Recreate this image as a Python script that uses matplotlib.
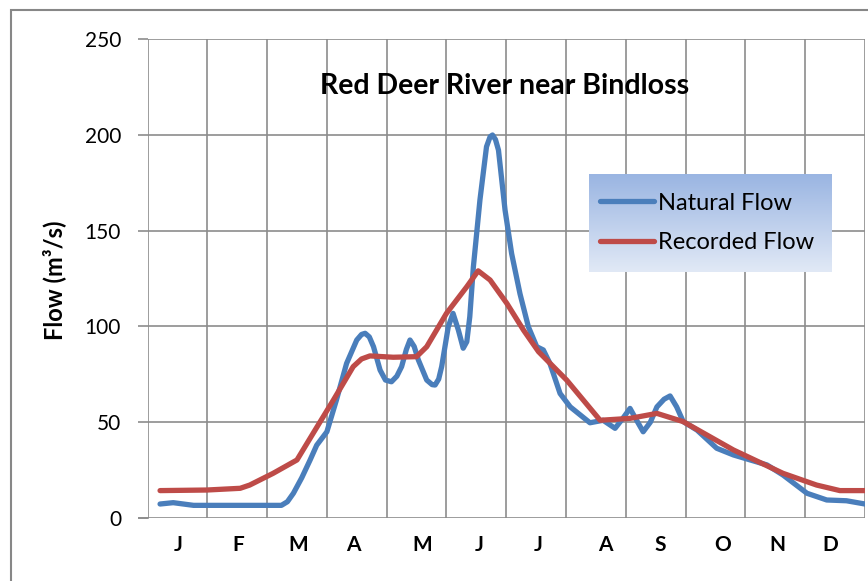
import numpy as np
import matplotlib
matplotlib.use("Agg")
import matplotlib.pyplot as plt
from matplotlib.patches import Rectangle

plt.rcParams['font.family'] = ['Lato', 'DejaVu Sans']

# ---- data (x in months from Jan 1, y in m3/s) ----
natural_x = [0.21, 0.43, 0.77, 1.38, 1.99, 2.24, 2.34, 2.44, 2.58, 2.72, 2.83, 3.0, 3.16, 3.33,
             3.5, 3.58, 3.64, 3.71, 3.78, 3.89, 3.98, 4.08, 4.17, 4.25, 4.33, 4.39, 4.46,
             4.53, 4.67, 4.76, 4.81, 4.87, 4.92, 5.03, 5.11, 5.2, 5.28, 5.34, 5.39, 5.45,
             5.56, 5.67, 5.73, 5.77, 5.82, 5.87, 5.98, 6.09, 6.23, 6.37, 6.51, 6.62, 6.73,
             6.9, 7.07, 7.4, 7.62, 7.82, 7.95, 8.07, 8.18, 8.29, 8.41, 8.52, 8.64, 8.74,
             8.85, 8.96, 9.19, 9.52, 9.8, 10.36, 10.63, 11.03, 11.36, 11.69, 12.0]
natural_y = [7.3, 8.0, 6.6, 6.6, 6.6, 6.6, 8.5, 12.9, 21, 30.3, 38, 45, 61.6, 80.7,
             92.9, 95.8, 96.4, 94.5, 89.4, 77.2, 72, 71.1, 74, 79, 88, 92.9, 89.5,
             82.5, 72, 69.6, 69.4, 72.5, 79, 99.8, 106.8, 98, 88.6, 92, 105, 131,
             166, 193.8, 199, 199.9, 197.5, 192, 160.7, 138, 117, 99.8, 89.4, 87.7, 80.7,
             65, 58, 49.7, 51, 46.8, 52, 57.2, 51, 45, 50, 58, 62, 63.7,
             58, 50.3, 45.9, 36.4, 32.9, 27.7, 22.4, 12.9, 9.4, 9.0, 7.3]

recorded_x = [0.21, 0.99, 1.55, 1.71, 2.1, 2.5, 2.77, 3.11, 3.44, 3.58, 3.72, 4.11, 4.5, 4.67,
              5.0, 5.34, 5.53, 5.73, 6.01, 6.29, 6.54, 7.01, 7.57, 8.07, 8.52, 8.96,
              9.8, 10.63, 11.19, 11.58, 12.0]
recorded_y = [14.3, 14.6, 15.5, 17.2, 23.3, 30.3, 44.2, 61.6, 79, 83, 84.6, 83.9, 84.2, 89.4,
              106.8, 120.7, 129, 124.2, 112, 98, 86.8, 72, 51, 52, 54.6, 50.3,
              35.5, 23.3, 17.2, 14.3, 14.3]

month_labels = ['J', 'F', 'M', 'A', 'M', 'J', 'J', 'A', 'S', 'O', 'N', 'D']
month_label_pos = [0.52, 1.52, 2.52, 3.44, 4.59, 5.55, 6.53, 7.65, 8.57, 9.62, 10.54, 11.42]
y_ticks = [0, 50, 100, 150, 200, 250]

title = 'Red Deer River near Bindloss'
ylabel = 'Flow (m³/s)'
series_names = ['Natural Flow', 'Recorded Flow']

# ---- figure ----
W, H = 868, 581
fig = plt.figure(figsize=(W / 100, H / 100), dpi=100)

# outer chart border (partly cut off on right/bottom)
fig.patches.append(Rectangle((11 / W, -0.1), 1.2, 1 - 10 / H + 0.1,
                             transform=fig.transFigure, fill=False,
                             edgecolor='#878787', linewidth=1.5, zorder=0))

ax = fig.add_axes([147.5 / W, 1 - 518 / H, (865 - 147.5) / W, (518 - 39) / H])
ax.set_xlim(0, 12)
ax.set_ylim(0, 250)

grid_c = '#8c8c8c'
for xv in range(0, 13):
    ax.axvline(xv, color=grid_c, lw=1.2, zorder=1)
for yv in y_ticks:
    ax.axhline(yv, color=grid_c, lw=1.2, zorder=1)
for s in ax.spines.values():
    s.set_visible(False)

ln1, = ax.plot(natural_x, natural_y, color='#4A7EBB', lw=3.8, solid_capstyle='round',
               solid_joinstyle='round', zorder=3)
ln2, = ax.plot(recorded_x, recorded_y, color='#BE4B48', lw=3.8, solid_capstyle='round',
               solid_joinstyle='round', zorder=4)

ax.set_yticks(y_ticks)
ax.set_yticklabels([str(v) for v in y_ticks], fontsize=15)
ax.tick_params(axis='y', length=7, width=1.2, color=grid_c, pad=12)
ax.set_xticks(month_label_pos)
ax.set_xticklabels(month_labels, fontsize=15, fontweight='bold')
ax.tick_params(axis='x', length=0, pad=12)
# small tick extension of x axis at 0
ax.plot([-0.14, 0], [0, 0], color=grid_c, lw=1.2, clip_on=False, zorder=1)

ax.set_ylabel(ylabel, fontsize=17, fontweight='bold')
ax.yaxis.set_label_coords(-0.114, 0.497)

ax.text(0.497, 0.902, title, transform=ax.transAxes, ha='center', va='center',
        fontsize=20.5, fontweight='bold')

# legend with gradient background
lx0, lx1, ly0, ly1 = 589, 831, 174, 272
lax = fig.add_axes([lx0 / W, 1 - ly1 / H, (lx1 - lx0) / W, (ly1 - ly0) / H], zorder=5)
top = np.array([0x9A, 0xB5, 0xE2]) / 255
bot = np.array([0xE1, 0xE9, 0xF6]) / 255
t = np.linspace(0, 1, 100)[:, None]
grad = (top[None, :] * (1 - t) + bot[None, :] * t)[:, None, :]
lax.imshow(grad, aspect='auto', extent=[0, 1, 0, 1])
lax.set_xlim(0, 1)
lax.set_ylim(0, 1)
lax.axis('off')
leg = lax.legend([ln1, ln2], series_names, loc='center left', bbox_to_anchor=(0.0, 0.5),
                 frameon=False, fontsize=17, handlelength=2.3, handletextpad=0.18,
                 labelspacing=0.8, borderaxespad=0, borderpad=0.45)

fig.savefig('out.png', dpi=100)
